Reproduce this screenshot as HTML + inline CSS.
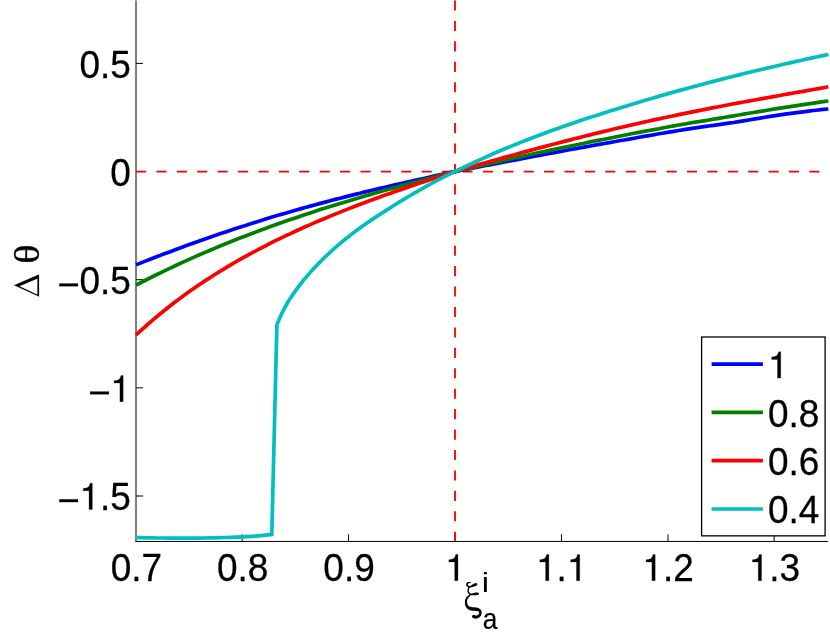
<!DOCTYPE html>
<html><head><meta charset="utf-8"><title>plot</title>
<style>
html,body{margin:0;padding:0;background:#fff;}
body{width:830px;height:635px;overflow:hidden;font-family:"Liberation Sans",sans-serif;}
svg{display:block;position:absolute;left:0;top:0;will-change:transform;}
text{font-family:"Liberation Sans",sans-serif;fill:#000;stroke:#000;stroke-width:0.25px;stroke-linejoin:round;}
text.sf{font-family:"Liberation Serif",serif;}
</style></head><body>
<svg width="830" height="635" viewBox="0 0 830 635">
<rect x="0" y="0" width="830" height="635" fill="#fff"/>
<g stroke="#000" stroke-width="1" fill="none"><path d="M136,0.5 V541.95"/><path d="M135.5,541.45 H827.9"/><path d="M136,63.40 h7"/><path d="M136,171.55 h7"/><path d="M136,279.70 h7"/><path d="M136,387.85 h7"/><path d="M136,496.00 h7"/><path d="M242.15,541.5 v-7.2"/><path d="M348.55,541.5 v-7.2"/><path d="M455.00,541.5 v-7.2"/><path d="M561.45,541.5 v-7.2"/><path d="M668.00,541.5 v-7.2"/><path d="M774.10,541.5 v-7.2"/></g>
<g stroke="#ff0000" stroke-width="1.85" fill="none" stroke-dasharray="10.1 10.305"><path d="M136,171.55 H827.5"/><path d="M455,0.5 V541.5" stroke-dasharray="10.1 10.33"/></g>
<g fill="none" stroke-width="3.7" stroke-linejoin="round" stroke-linecap="butt"><path d="M136.0,264.9 L141.0,262.9 L146.0,260.9 L150.9,259.0 L155.9,257.1 L160.9,255.1 L165.9,253.3 L170.9,251.4 L175.8,249.5 L180.8,247.7 L185.8,245.8 L190.8,244.0 L195.8,242.2 L200.7,240.5 L205.7,238.7 L210.7,237.0 L215.7,235.3 L220.7,233.6 L225.7,231.9 L230.6,230.2 L235.6,228.6 L240.6,227.0 L245.6,225.4 L250.6,223.8 L255.5,222.2 L260.5,220.7 L265.5,219.1 L270.5,217.6 L275.5,216.1 L280.4,214.6 L285.4,213.2 L290.4,211.7 L295.4,210.3 L300.4,208.9 L305.3,207.5 L310.3,206.1 L315.3,204.7 L320.3,203.4 L325.3,202.1 L330.2,200.7 L335.2,199.4 L340.2,198.2 L345.2,196.9 L350.2,195.6 L355.1,194.4 L360.1,193.2 L365.1,191.9 L370.1,190.7 L375.1,189.5 L380.0,188.4 L385.0,187.2 L390.0,186.0 L395.0,184.9 L400.0,183.8 L405.0,182.6 L409.9,181.5 L414.9,180.4 L419.9,179.3 L424.9,178.2 L429.9,177.0 L434.8,175.9 L439.8,174.8 L444.8,173.7 L449.8,172.6 L454.8,171.6 L459.7,170.5 L464.7,169.6 L469.7,168.6 L474.7,167.7 L479.7,166.7 L484.6,165.8 L489.6,164.9 L494.6,163.9 L499.6,162.9 L504.6,162.0 L509.5,161.0 L514.5,160.1 L519.5,159.1 L524.5,158.2 L529.5,157.2 L534.4,156.3 L539.4,155.4 L544.4,154.4 L549.4,153.5 L554.4,152.6 L559.3,151.7 L564.3,150.8 L569.3,149.8 L574.3,148.9 L579.3,148.0 L584.3,147.1 L589.2,146.2 L594.2,145.3 L599.2,144.4 L604.2,143.5 L609.2,142.6 L614.1,141.7 L619.1,140.8 L624.1,140.0 L629.1,139.1 L634.1,138.2 L639.0,137.3 L644.0,136.4 L649.0,135.6 L654.0,134.7 L659.0,133.8 L663.9,133.0 L668.9,132.1 L673.9,131.3 L678.9,130.5 L683.9,129.7 L688.8,128.9 L693.8,128.1 L698.8,127.4 L703.8,126.7 L708.8,126.0 L713.7,125.3 L718.7,124.6 L723.7,123.9 L728.7,123.2 L733.7,122.5 L738.6,121.7 L743.6,120.9 L748.6,120.0 L753.6,119.2 L758.6,118.4 L763.6,117.5 L768.5,116.7 L773.5,115.9 L778.5,115.2 L783.5,114.4 L788.5,113.7 L793.4,113.1 L798.4,112.4 L803.4,111.8 L808.4,111.1 L813.4,110.5 L818.3,110.0 L823.3,109.4 L828.3,109.0" stroke="#0000ff"/><path d="M136.0,285.1 L141.0,282.5 L146.0,280.0 L150.9,277.5 L155.9,275.0 L160.9,272.6 L165.9,270.2 L170.9,267.8 L175.8,265.5 L180.8,263.1 L185.8,260.9 L190.8,258.6 L195.8,256.4 L200.7,254.2 L205.7,252.1 L210.7,250.0 L215.7,247.9 L220.7,245.8 L225.7,243.8 L230.6,241.8 L235.6,239.8 L240.6,237.8 L245.6,235.9 L250.6,234.0 L255.5,232.1 L260.5,230.2 L265.5,228.4 L270.5,226.6 L275.5,224.8 L280.4,223.0 L285.4,221.3 L290.4,219.6 L295.4,217.9 L300.4,216.2 L305.3,214.5 L310.3,212.9 L315.3,211.3 L320.3,209.6 L325.3,208.1 L330.2,206.5 L335.2,204.9 L340.2,203.4 L345.2,201.9 L350.2,200.4 L355.1,198.9 L360.1,197.4 L365.1,196.0 L370.1,194.6 L375.1,193.1 L380.0,191.7 L385.0,190.3 L390.0,189.0 L395.0,187.6 L400.0,186.2 L405.0,184.9 L409.9,183.5 L414.9,182.2 L419.9,180.9 L424.9,179.5 L429.9,178.2 L434.8,176.8 L439.8,175.4 L444.8,174.1 L449.8,172.8 L454.8,171.6 L459.7,170.4 L464.7,169.2 L469.7,168.1 L474.7,166.9 L479.7,165.8 L484.6,164.7 L489.6,163.6 L494.6,162.5 L499.6,161.4 L504.6,160.2 L509.5,159.1 L514.5,158.0 L519.5,156.9 L524.5,155.8 L529.5,154.7 L534.4,153.6 L539.4,152.5 L544.4,151.5 L549.4,150.4 L554.4,149.4 L559.3,148.3 L564.3,147.3 L569.3,146.2 L574.3,145.2 L579.3,144.2 L584.3,143.2 L589.2,142.1 L594.2,141.1 L599.2,140.1 L604.2,139.2 L609.2,138.2 L614.1,137.2 L619.1,136.2 L624.1,135.3 L629.1,134.3 L634.1,133.3 L639.0,132.4 L644.0,131.4 L649.0,130.5 L654.0,129.6 L659.0,128.7 L663.9,127.7 L668.9,126.8 L673.9,125.9 L678.9,125.0 L683.9,124.2 L688.8,123.3 L693.8,122.4 L698.8,121.6 L703.8,120.8 L708.8,120.0 L713.7,119.1 L718.7,118.3 L723.7,117.5 L728.7,116.7 L733.7,115.9 L738.6,115.0 L743.6,114.2 L748.6,113.3 L753.6,112.5 L758.6,111.6 L763.6,110.8 L768.5,110.0 L773.5,109.2 L778.5,108.4 L783.5,107.6 L788.5,106.9 L793.4,106.1 L798.4,105.3 L803.4,104.6 L808.4,103.8 L813.4,103.1 L818.3,102.3 L823.3,101.6 L828.3,101.0" stroke="#008000"/><path d="M136.0,335.0 L141.0,330.4 L146.0,326.0 L150.9,321.6 L155.9,317.4 L160.9,313.3 L165.9,309.3 L170.9,305.3 L175.8,301.5 L180.8,297.8 L185.8,294.1 L190.8,290.6 L195.8,287.1 L200.7,283.7 L205.7,280.4 L210.7,277.2 L215.7,274.0 L220.7,270.9 L225.7,267.9 L230.6,264.9 L235.6,262.0 L240.6,259.2 L245.6,256.4 L250.6,253.7 L255.5,251.0 L260.5,248.3 L265.5,245.8 L270.5,243.2 L275.5,240.7 L280.4,238.3 L285.4,235.9 L290.4,233.6 L295.4,231.3 L300.4,229.0 L305.3,226.7 L310.3,224.6 L315.3,222.4 L320.3,220.3 L325.3,218.2 L330.2,216.1 L335.2,214.1 L340.2,212.1 L345.2,210.1 L350.2,208.1 L355.1,206.2 L360.1,204.3 L365.1,202.4 L370.1,200.6 L375.1,198.7 L380.0,196.9 L385.0,195.1 L390.0,193.4 L395.0,191.6 L400.0,189.9 L405.0,188.2 L409.9,186.5 L414.9,184.8 L419.9,183.1 L424.9,181.4 L429.9,179.7 L434.8,178.1 L439.8,176.4 L444.8,174.7 L449.8,173.1 L454.8,171.6 L459.7,170.1 L464.7,168.6 L469.7,167.2 L474.7,165.8 L479.7,164.4 L484.6,163.0 L489.6,161.6 L494.6,160.2 L499.6,158.8 L504.6,157.4 L509.5,156.1 L514.5,154.7 L519.5,153.3 L524.5,151.9 L529.5,150.6 L534.4,149.2 L539.4,147.9 L544.4,146.6 L549.4,145.3 L554.4,144.0 L559.3,142.7 L564.3,141.4 L569.3,140.1 L574.3,138.8 L579.3,137.6 L584.3,136.3 L589.2,135.1 L594.2,133.8 L599.2,132.6 L604.2,131.4 L609.2,130.2 L614.1,129.0 L619.1,127.8 L624.1,126.7 L629.1,125.5 L634.1,124.4 L639.0,123.2 L644.0,122.1 L649.0,121.0 L654.0,119.9 L659.0,118.9 L663.9,117.8 L668.9,116.7 L673.9,115.7 L678.9,114.6 L683.9,113.6 L688.8,112.6 L693.8,111.6 L698.8,110.6 L703.8,109.6 L708.8,108.6 L713.7,107.6 L718.7,106.7 L723.7,105.7 L728.7,104.8 L733.7,103.8 L738.6,102.9 L743.6,102.0 L748.6,101.1 L753.6,100.2 L758.6,99.3 L763.6,98.4 L768.5,97.5 L773.5,96.6 L778.5,95.7 L783.5,94.8 L788.5,93.9 L793.4,93.0 L798.4,92.1 L803.4,91.3 L808.4,90.4 L813.4,89.5 L818.3,88.6 L823.3,87.7 L828.3,86.8" stroke="#ff0000"/><path d="M136.0,537.6 L141.3,537.7 L146.6,537.8 L151.9,537.9 L157.2,538.0 L162.5,538.0 L167.8,538.1 L173.1,538.1 L178.4,538.2 L183.7,538.2 L189.0,538.2 L194.3,538.1 L199.6,538.1 L204.9,538.0 L210.2,537.9 L215.5,537.8 L220.8,537.7 L226.1,537.5 L231.4,537.3 L236.7,537.1 L242.0,536.9 L247.3,536.6 L252.6,536.3 L257.9,535.9 L263.2,535.4 L268.5,534.8 L271.8,534.4 L276.9,324.6 L282.2,312.5 L287.5,302.8 L292.8,294.5 L298.1,287.1 L303.4,280.4 L308.7,274.1 L314.0,268.3 L319.3,262.8 L324.6,257.5 L329.9,252.5 L335.2,247.7 L340.5,243.2 L345.8,238.8 L351.1,234.6 L356.4,230.6 L361.7,226.8 L367.0,223.0 L372.3,219.4 L377.6,215.9 L382.9,212.5 L388.2,209.1 L393.5,205.7 L398.8,202.4 L404.1,199.2 L409.4,196.0 L414.7,192.9 L420.0,189.9 L425.3,186.9 L430.6,184.0 L435.9,181.2 L441.2,178.4 L446.5,175.7 L451.8,173.1 L457.1,170.5 L462.4,168.0 L467.7,165.5 L473.0,163.0 L478.3,160.5 L483.6,158.1 L488.9,155.7 L494.2,153.3 L499.5,151.0 L504.8,148.8 L510.1,146.6 L515.4,144.5 L520.7,142.4 L526.0,140.3 L531.3,138.2 L536.6,136.2 L541.9,134.2 L547.2,132.3 L552.5,130.3 L557.8,128.4 L563.1,126.5 L568.4,124.7 L573.7,122.9 L579.0,121.1 L584.3,119.3 L589.6,117.6 L594.9,115.9 L600.2,114.2 L605.5,112.5 L610.8,110.8 L616.1,109.2 L621.4,107.5 L626.7,105.9 L632.0,104.3 L637.3,102.7 L642.6,101.1 L647.9,99.5 L653.2,97.9 L658.5,96.4 L663.8,94.9 L669.1,93.4 L674.4,91.9 L679.7,90.4 L685.0,89.0 L690.3,87.5 L695.6,86.1 L700.9,84.7 L706.2,83.3 L711.5,81.9 L716.8,80.5 L722.1,79.1 L727.4,77.8 L732.7,76.5 L738.0,75.1 L743.3,73.8 L748.6,72.5 L753.9,71.2 L759.2,70.0 L764.5,68.7 L769.8,67.5 L775.1,66.2 L780.4,65.0 L785.7,63.8 L791.0,62.6 L796.3,61.4 L801.6,60.2 L806.9,59.0 L812.2,57.9 L817.5,56.7 L822.8,55.6 L828.1,54.5 L828.3,54.4" stroke="#00bfbf" stroke-linejoin="miter"/></g>
<text transform="translate(79.47,78.20) scale(1,1.045)" font-size="37.0px">0.5</text><text transform="translate(110.33,186.35) scale(1,1.045)" font-size="37.0px">0</text><text transform="translate(57.86,294.00) scale(1,1.045)" font-size="37.0px"><tspan style="fill:none;stroke:none">−</tspan>0.5</text><path d="M.039,-.2715 H.545 V-.1985 H.039 Z" transform="translate(57.86,293.60) scale(37.0)" fill="#000" stroke="#000" stroke-width="0.00676"/><path d="M.039,-.2715 H.545 V-.1985 H.039 Z" transform="translate(88.72,401.65) scale(37.0)" fill="#000" stroke="#000" stroke-width="0.00676"/><path d="M.259,-.505 L.259,0 L.347,0 L.347,-.709 L.289,-.709 C.258,-.600 .238,-.585 .102,-.568 L.102,-.505 Z" transform="translate(110.33,401.65) scale(37.0)" fill="#000" stroke="#000" stroke-width="0.00676" stroke-linejoin="round"/><text transform="translate(57.86,509.80) scale(1,1.045)" font-size="37.0px"><tspan style="fill:none;stroke:none">−</tspan><tspan style="fill:none;stroke:none">1</tspan>.5</text><path d="M.039,-.2715 H.545 V-.1985 H.039 Z" transform="translate(57.86,509.40) scale(37.0)" fill="#000" stroke="#000" stroke-width="0.00676"/><path d="M.259,-.505 L.259,0 L.347,0 L.347,-.709 L.289,-.709 C.258,-.600 .238,-.585 .102,-.568 L.102,-.505 Z" transform="translate(79.47,509.40) scale(37.0)" fill="#000" stroke="#000" stroke-width="0.00676" stroke-linejoin="round"/><text transform="translate(110.69,581.10) scale(1,1.045)" font-size="37.0px">0.7</text><text transform="translate(217.02,581.10) scale(1,1.045)" font-size="37.0px">0.8</text><text transform="translate(323.35,581.10) scale(1,1.045)" font-size="37.0px">0.9</text><path d="M.259,-.505 L.259,0 L.347,0 L.347,-.709 L.289,-.709 C.258,-.600 .238,-.585 .102,-.568 L.102,-.505 Z" transform="translate(445.11,580.70) scale(37.0)" fill="#000" stroke="#000" stroke-width="0.00676" stroke-linejoin="round"/><text transform="translate(536.02,581.10) scale(1,1.045)" font-size="37.0px"><tspan style="fill:none;stroke:none">1</tspan>.<tspan style="fill:none;stroke:none">1</tspan></text><path d="M.259,-.505 L.259,0 L.347,0 L.347,-.709 L.289,-.709 C.258,-.600 .238,-.585 .102,-.568 L.102,-.505 Z" transform="translate(536.02,580.70) scale(37.0)" fill="#000" stroke="#000" stroke-width="0.00676" stroke-linejoin="round"/><path d="M.259,-.505 L.259,0 L.347,0 L.347,-.709 L.289,-.709 C.258,-.600 .238,-.585 .102,-.568 L.102,-.505 Z" transform="translate(566.88,580.70) scale(37.0)" fill="#000" stroke="#000" stroke-width="0.00676" stroke-linejoin="round"/><text transform="translate(642.35,581.10) scale(1,1.045)" font-size="37.0px"><tspan style="fill:none;stroke:none">1</tspan>.2</text><path d="M.259,-.505 L.259,0 L.347,0 L.347,-.709 L.289,-.709 C.258,-.600 .238,-.585 .102,-.568 L.102,-.505 Z" transform="translate(642.35,580.70) scale(37.0)" fill="#000" stroke="#000" stroke-width="0.00676" stroke-linejoin="round"/><text transform="translate(748.68,581.10) scale(1,1.045)" font-size="37.0px"><tspan style="fill:none;stroke:none">1</tspan>.3</text><path d="M.259,-.505 L.259,0 L.347,0 L.347,-.709 L.289,-.709 C.258,-.600 .238,-.585 .102,-.568 L.102,-.505 Z" transform="translate(748.68,580.70) scale(37.0)" fill="#000" stroke="#000" stroke-width="0.00676" stroke-linejoin="round"/>
<text transform="translate(38.64,263.78) rotate(-90) scale(1.0811,0.9644)" font-size="37px" class="sf" style="stroke-width:0.3px">θ</text><path d="M14.2,285.2 L39.0,274.6 L39.0,296.6 Z M19.25,286.3 L37.5,294.7 L37.5,278.5 Z" fill="#000" fill-rule="evenodd" stroke="#000" stroke-width="0.2" stroke-linejoin="miter"/>
<path d="M470.37,582.00 L470.25,581.99 L470.12,581.97 L469.99,581.96 L469.85,581.94 L469.70,581.93 L469.56,581.92 L469.41,581.91 L469.26,581.91 L469.10,581.90 L468.94,581.91 L468.78,581.91 L468.62,581.94 L468.45,581.97 L468.29,582.00 L468.12,582.05 L467.96,582.10 L467.79,582.16 L467.63,582.23 L467.46,582.31 L467.30,582.41 L467.15,582.52 L466.99,582.64 L466.85,582.77 L466.71,582.92 L466.59,583.08 L466.48,583.25 L466.39,583.42 L466.30,583.60 L466.23,583.79 L466.17,583.99 L466.13,584.19 L466.10,584.41 L466.10,584.62 L466.13,584.83 L466.17,585.03 L466.23,585.23 L466.30,585.41 L466.38,585.59 L466.47,585.76 L466.57,585.92 L466.68,586.07 L466.80,586.22 L466.92,586.36 L467.05,586.49 L467.18,586.61 L467.32,586.73 L467.46,586.84 L467.60,586.95 L467.75,587.05 L467.90,587.14 L468.04,587.23 L468.19,587.31 L468.34,587.38 L468.50,587.45 L468.65,587.51 L468.80,587.57 L468.95,587.61 L469.10,587.65 L469.25,587.68 L469.51,587.69 L469.76,587.61 L469.96,587.45 L470.10,587.23 L470.15,586.97 L470.11,586.71 L469.99,586.48 L469.79,586.31 L469.55,586.22 L469.48,586.19 L469.40,586.17 L469.31,586.14 L469.22,586.10 L469.13,586.05 L469.03,586.00 L468.93,585.95 L468.83,585.89 L468.74,585.82 L468.64,585.75 L468.54,585.68 L468.45,585.61 L468.36,585.53 L468.28,585.45 L468.20,585.36 L468.13,585.28 L468.06,585.20 L468.00,585.11 L467.95,585.03 L467.91,584.95 L467.87,584.87 L467.84,584.80 L467.82,584.73 L467.81,584.66 L467.80,584.60 L467.80,584.54 L467.80,584.48 L467.80,584.42 L467.81,584.35 L467.82,584.28 L467.84,584.21 L467.87,584.13 L467.90,584.06 L467.94,583.98 L467.98,583.92 L468.03,583.85 L468.08,583.79 L468.13,583.74 L468.19,583.68 L468.26,583.63 L468.33,583.58 L468.41,583.53 L468.50,583.48 L468.60,583.43 L468.70,583.39 L468.81,583.35 L468.92,583.32 L469.04,583.28 L469.16,583.24 L469.28,583.20 L469.41,583.16 L469.53,583.12 L469.66,583.09 L469.79,583.05 L469.92,583.02 L470.05,582.99 L470.18,582.96 L470.31,582.93 L470.43,582.90 L470.58,582.86 L470.71,582.77 L470.80,582.65 L470.85,582.50 L470.84,582.34 L470.77,582.20 L470.67,582.09 L470.53,582.02Z M469.44,587.63 L469.58,587.62 L469.72,587.60 L469.85,587.58 L469.98,587.56 L470.12,587.54 L470.25,587.52 L470.39,587.50 L470.52,587.47 L470.65,587.44 L470.78,587.42 L470.92,587.39 L471.05,587.36 L471.18,587.33 L471.31,587.29 L471.44,587.26 L471.57,587.23 L471.70,587.20 L471.83,587.16 L471.96,587.13 L472.09,587.10 L472.22,587.06 L472.35,587.03 L472.48,586.99 L472.61,586.95 L472.74,586.92 L472.86,586.88 L472.99,586.84 L473.12,586.80 L473.25,586.77 L473.37,586.73 L473.50,586.69 L473.62,586.65 L473.74,586.61 L473.87,586.57 L473.99,586.53 L474.11,586.49 L474.23,586.45 L474.35,586.42 L474.47,586.38 L474.58,586.35 L474.70,586.31 L474.82,586.28 L474.93,586.25 L475.04,586.22 L475.16,586.19 L475.26,586.14 L475.36,586.10 L475.46,586.06 L475.56,586.03 L475.65,586.00 L475.74,585.97 L475.83,585.94 L475.91,585.92 L475.98,585.86 L476.05,585.79 L476.12,585.71 L476.19,585.64 L476.26,585.57 L476.33,585.50 L476.71,585.42 L477.03,585.22 L477.27,584.92 L477.39,584.56 L477.38,584.17 L477.23,583.82 L476.98,583.54 L476.64,583.35 L476.27,583.30 L476.09,583.25 L475.90,583.20 L475.72,583.16 L475.54,583.13 L475.36,583.10 L475.18,583.11 L475.02,583.15 L474.87,583.20 L474.71,583.25 L474.57,583.30 L474.42,583.36 L474.28,583.41 L474.15,583.47 L474.02,583.52 L473.90,583.59 L473.78,583.67 L473.66,583.74 L473.55,583.81 L473.43,583.88 L473.32,583.96 L473.21,584.03 L473.10,584.10 L472.99,584.18 L472.88,584.25 L472.78,584.32 L472.67,584.39 L472.56,584.46 L472.46,584.53 L472.36,584.60 L472.25,584.67 L472.15,584.74 L472.05,584.81 L471.94,584.88 L471.84,584.95 L471.74,585.02 L471.63,585.09 L471.53,585.15 L471.43,585.22 L471.32,585.29 L471.22,585.35 L471.11,585.42 L471.01,585.48 L470.90,585.54 L470.80,585.60 L470.69,585.66 L470.58,585.72 L470.48,585.77 L470.37,585.83 L470.26,585.88 L470.15,585.94 L470.04,585.99 L469.93,586.04 L469.83,586.09 L469.72,586.14 L469.60,586.19 L469.49,586.23 L469.38,586.28 L469.27,586.32 L469.16,586.37 L468.95,586.45 L468.78,586.61 L468.68,586.81 L468.65,587.03 L468.70,587.25 L468.82,587.44 L469.00,587.58 L469.22,587.64Z M468.82,586.50 L468.74,586.63 L468.65,586.76 L468.57,586.89 L468.49,587.02 L468.41,587.16 L468.33,587.30 L468.25,587.44 L468.18,587.58 L468.11,587.73 L468.04,587.88 L467.97,588.03 L467.90,588.18 L467.84,588.33 L467.78,588.49 L467.73,588.65 L467.68,588.80 L467.63,588.97 L467.59,589.13 L467.55,589.29 L467.51,589.46 L467.48,589.62 L467.45,589.79 L467.43,589.96 L467.41,590.13 L467.40,590.30 L467.40,590.47 L467.40,590.64 L467.40,590.82 L467.42,590.99 L467.44,591.16 L467.46,591.34 L467.49,591.51 L467.53,591.68 L467.57,591.85 L467.62,592.02 L467.68,592.19 L467.74,592.35 L467.81,592.51 L467.89,592.67 L467.97,592.83 L468.05,592.98 L468.14,593.14 L468.24,593.28 L468.34,593.43 L468.45,593.57 L468.56,593.71 L468.68,593.84 L468.80,593.97 L468.93,594.09 L469.06,594.20 L469.20,594.32 L469.34,594.42 L469.49,594.53 L469.64,594.62 L469.79,594.71 L469.95,594.80 L470.12,594.87 L470.28,594.94 L470.45,595.01 L470.71,595.05 L470.97,595.00 L471.19,594.87 L471.35,594.67 L471.44,594.42 L471.44,594.16 L471.34,593.92 L471.17,593.72 L470.95,593.59 L470.84,593.55 L470.73,593.51 L470.63,593.46 L470.52,593.40 L470.42,593.34 L470.32,593.28 L470.22,593.21 L470.13,593.14 L470.03,593.06 L469.94,592.98 L469.85,592.90 L469.77,592.81 L469.68,592.72 L469.60,592.63 L469.52,592.53 L469.45,592.43 L469.37,592.33 L469.30,592.23 L469.24,592.12 L469.18,592.01 L469.12,591.90 L469.07,591.79 L469.02,591.68 L468.98,591.56 L468.94,591.45 L468.90,591.33 L468.87,591.22 L468.84,591.10 L468.82,590.98 L468.81,590.86 L468.80,590.74 L468.80,590.62 L468.80,590.49 L468.80,590.37 L468.81,590.24 L468.82,590.12 L468.84,589.99 L468.86,589.86 L468.88,589.73 L468.91,589.61 L468.94,589.48 L468.98,589.35 L469.01,589.22 L469.06,589.09 L469.10,588.97 L469.15,588.84 L469.20,588.71 L469.25,588.59 L469.31,588.46 L469.37,588.34 L469.43,588.22 L469.49,588.09 L469.55,587.98 L469.62,587.86 L469.69,587.74 L469.76,587.63 L469.83,587.52 L469.90,587.41 L469.98,587.30 L470.08,587.08 L470.10,586.84 L470.03,586.60 L469.89,586.40 L469.69,586.26 L469.46,586.20 L469.22,586.22 L469.00,586.33Z M470.50,594.99 L470.64,595.03 L470.78,595.06 L470.91,595.09 L471.05,595.12 L471.18,595.14 L471.32,595.16 L471.46,595.18 L471.59,595.20 L471.73,595.22 L471.87,595.24 L472.01,595.25 L472.14,595.26 L472.28,595.28 L472.42,595.28 L472.55,595.29 L472.69,595.30 L472.83,595.30 L472.97,595.31 L473.10,595.31 L473.24,595.32 L473.38,595.32 L473.51,595.32 L473.65,595.32 L473.78,595.31 L473.92,595.31 L474.06,595.31 L474.19,595.30 L474.33,595.29 L474.46,595.29 L474.59,595.28 L474.73,595.27 L474.86,595.25 L474.99,595.24 L475.11,595.23 L475.24,595.21 L475.36,595.20 L475.48,595.19 L475.60,595.18 L475.72,595.17 L475.84,595.16 L475.95,595.15 L476.07,595.14 L476.18,595.14 L476.28,595.12 L476.39,595.10 L476.50,595.08 L476.61,595.07 L476.72,595.05 L476.83,595.04 L476.94,595.03 L477.05,595.02 L477.16,595.01 L477.28,594.98 L477.39,594.93 L477.50,594.88 L477.62,594.84 L477.74,594.79 L477.85,594.74 L477.97,594.70 L478.32,594.65 L478.62,594.48 L478.85,594.22 L478.98,593.90 L478.99,593.55 L478.88,593.22 L478.66,592.95 L478.37,592.77 L478.03,592.70 L477.89,592.65 L477.76,592.60 L477.62,592.55 L477.49,592.51 L477.35,592.46 L477.21,592.42 L477.07,592.40 L476.93,592.40 L476.79,592.40 L476.65,592.41 L476.50,592.41 L476.36,592.42 L476.22,592.43 L476.08,592.44 L475.94,592.45 L475.79,592.47 L475.65,592.50 L475.52,592.53 L475.38,592.57 L475.25,592.60 L475.12,592.64 L474.99,592.68 L474.87,592.71 L474.74,592.75 L474.62,592.79 L474.50,592.82 L474.38,592.86 L474.26,592.90 L474.15,592.93 L474.03,592.97 L473.92,593.01 L473.80,593.05 L473.69,593.08 L473.58,593.12 L473.46,593.15 L473.35,593.19 L473.23,593.22 L473.12,593.25 L473.00,593.28 L472.89,593.31 L472.78,593.34 L472.66,593.37 L472.55,593.40 L472.43,593.42 L472.32,593.45 L472.20,593.47 L472.09,593.49 L471.97,593.51 L471.86,593.52 L471.74,593.54 L471.63,593.55 L471.51,593.57 L471.40,593.58 L471.28,593.59 L471.16,593.59 L471.05,593.60 L470.93,593.60 L470.81,593.61 L470.70,593.61 L470.45,593.62 L470.23,593.71 L470.05,593.87 L469.93,594.08 L469.90,594.33 L469.95,594.56 L470.08,594.77 L470.27,594.92Z M470.10,593.91 L469.65,594.31 L469.17,594.72 L468.67,595.16 L468.15,595.61 L467.64,596.09 L467.14,596.60 L466.66,597.15 L466.22,597.73 L465.82,598.36 L465.49,599.04 L465.23,599.77 L465.07,600.51 L464.98,601.25 L464.95,601.99 L464.95,602.72 L464.98,603.46 L465.06,604.20 L465.21,604.95 L465.44,605.70 L465.74,606.44 L466.12,607.15 L466.59,607.82 L467.14,608.45 L467.77,609.02 L468.45,609.50 L469.18,609.90 L469.93,610.22 L470.69,610.48 L471.46,610.62 L472.20,610.72 L472.92,610.78 L473.59,610.82 L474.24,610.85 L474.86,610.87 L475.46,610.90 L476.04,610.94 L476.60,611.02 L477.15,611.10 L477.64,611.19 L478.06,611.31 L478.40,611.46 L478.70,611.68 L478.95,611.98 L479.13,612.32 L479.19,612.68 L479.14,613.10 L479.00,613.56 L478.78,614.02 L478.50,614.43 L478.17,614.79 L477.81,615.09 L477.41,615.32 L476.98,615.49 L476.54,615.58 L476.12,615.60 L475.71,615.54 L475.30,615.41 L474.91,615.26 L474.53,615.07 L473.99,614.88 L473.42,614.87 L472.88,615.07 L472.44,615.44 L472.15,615.93 L472.05,616.50 L472.15,617.06 L472.43,617.56 L472.87,617.93 L473.67,618.32 L474.53,618.56 L475.42,618.66 L476.33,618.61 L477.22,618.43 L478.04,618.12 L478.80,617.70 L479.49,617.18 L480.10,616.58 L480.60,615.92 L481.02,615.20 L481.35,614.44 L481.59,613.61 L481.69,612.71 L481.61,611.77 L481.36,610.85 L480.92,610.00 L480.30,609.25 L479.57,608.66 L478.79,608.22 L478.02,607.89 L477.27,607.67 L476.53,607.52 L475.81,607.41 L475.10,607.33 L474.42,607.27 L473.75,607.24 L473.12,607.22 L472.52,607.19 L471.96,607.13 L471.43,607.05 L470.92,606.97 L470.42,606.85 L469.95,606.69 L469.51,606.49 L469.10,606.24 L468.72,605.93 L468.36,605.57 L468.03,605.16 L467.75,604.71 L467.52,604.22 L467.33,603.70 L467.19,603.15 L467.08,602.57 L467.03,601.97 L467.03,601.38 L467.08,600.82 L467.18,600.28 L467.33,599.77 L467.54,599.27 L467.81,598.77 L468.13,598.27 L468.51,597.78 L468.91,597.29 L469.34,596.80 L469.78,596.31 L470.23,595.83 L470.67,595.36 L471.10,594.89 L471.24,594.69 L471.30,594.45 L471.27,594.21 L471.17,593.99 L471.00,593.82 L470.77,593.72 L470.53,593.70 L470.30,593.77Z" fill="#000" stroke="none"/><text transform="translate(481.74,592.25) scale(1.1364,0.9608)" font-size="29px" style="stroke-width:0px">i</text><text transform="translate(482.85,629.05) scale(0.9057,1.0446)" font-size="29px" style="stroke-width:0.2px">a</text>
<rect x="701.6" y="337" width="123.5" height="198.85" fill="#fff" stroke="#000" stroke-width="1.3"/><g stroke-width="3.7" fill="none"><path d="M711.6,364.1 H762.9" stroke="#0000ff"/><path d="M711.6,412.4 H762.9" stroke="#008000"/><path d="M711.6,460.7 H762.9" stroke="#ff0000"/><path d="M711.6,509.0 H762.9" stroke="#00bfbf"/></g><path d="M.259,-.505 L.259,0 L.347,0 L.347,-.709 L.289,-.709 C.258,-.600 .238,-.585 .102,-.568 L.102,-.505 Z" transform="translate(767.90,378.10) scale(37.0)" fill="#000" stroke="#000" stroke-width="0.00676" stroke-linejoin="round"/><text transform="translate(767.90,426.80) scale(1,1.045)" font-size="37.0px">0.8</text><text transform="translate(767.90,475.10) scale(1,1.045)" font-size="37.0px">0.6</text><text transform="translate(767.90,523.40) scale(1,1.045)" font-size="37.0px">0.4</text>
</svg></body></html>
